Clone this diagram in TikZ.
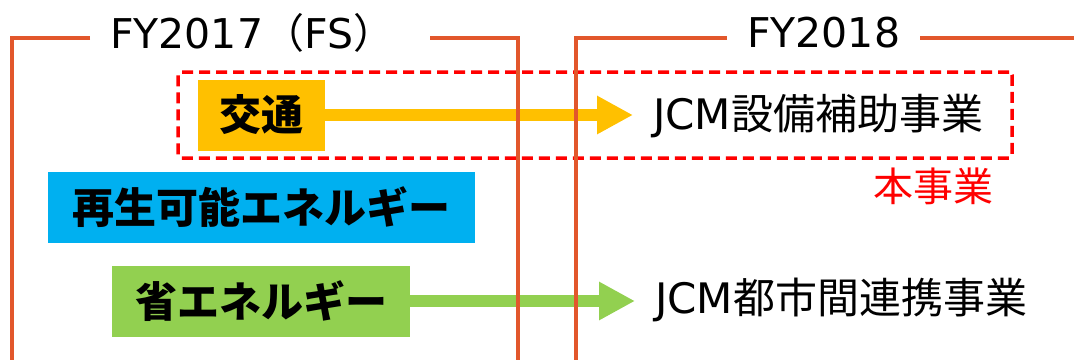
\documentclass[tikz,border=0pt]{standalone}
\usepackage{fontspec}
\setmainfont{Noto Sans CJK JP}
\newfontfamily\latinfont{DejaVu Sans}
\usepackage{xcolor}
\usetikzlibrary{arrows.meta,positioning}
\definecolor{jorange}{HTML}{E2572B}
\definecolor{jred}{HTML}{FF0000}
\definecolor{jyellow}{HTML}{FFC000}
\definecolor{jblue}{HTML}{00B0F0}
\definecolor{jgreen}{HTML}{92D050}
\tikzset{
	period/.style={color=jorange, line width=3.5pt},
	yeartext/.style={inner xsep=20pt, inner ysep=0pt, anchor=west, font=\fontsize{41}{50}\selectfont},
	field/.style={inner sep=0pt, minimum height=71pt, font=\fontsize{42}{50}\selectfont\bfseries},
	project/.style={inner xsep=20pt, inner ysep=0pt, anchor=west, font=\fontsize{42}{50}\selectfont},
	flow/.style={line width=12pt, -{Triangle[length=36pt,width=36pt]}},
}

\begin{document}
\begin{tikzpicture}[x=1pt, y=-1pt]
		\useasboundingbox (0,0) rectangle (1074,360);
		\node[field, fill=jyellow, minimum width=127pt] (kotsu) at (261.5,115) {交通};
		\node[field, fill=jblue, minimum width=427pt] (saisei) at (261.5,207.5) {再生可能エネルギー};
		\node[field, fill=jgreen, minimum width=298pt] (shoene) at (261,301) {省エネルギー};
		\node[project] (setsubi) at (633,116) {{\latinfont JCM}設備補助事業};
		\node[project] (toshikan) at (635,300) {{\latinfont JCM}都市間連携事業};
		\draw[flow, color=jyellow] (kotsu.east) -- (kotsu.east -| setsubi.west);
		\draw[flow, color=jgreen] (shoene.east) -- (shoene.east -| toshikan.west);
		\node[draw=jred, line width=3.5pt, dash pattern=on 11pt off 6pt, rounded corners=3pt, minimum width=834pt, minimum height=86pt] (honbox) at (595,115) {};
		\node[inner sep=0pt, anchor=north east, color=jred, font=\fontsize{40}{48}\selectfont] (honlabel) at ([xshift=-20pt,yshift=-8pt]honbox.south east) {本事業};
		\node[yeartext] (fy17) at (90,33) {{\latinfont FY2017}（{\latinfont FS}）};
		\node[yeartext] (fy18) at (727,33) {{\latinfont FY2018}};
		\draw[period] (fy17.west |- 0,38) -| (12,360);
		\draw[period] ([xshift=16pt]fy17.east |- 0,38) -| (518,360);
		\draw[period] (fy18.west |- 0,38) -| (576,360);
		\draw[period] (fy18.east |- 0,38) -- (1074,38);
	\end{tikzpicture}
\end{document}
